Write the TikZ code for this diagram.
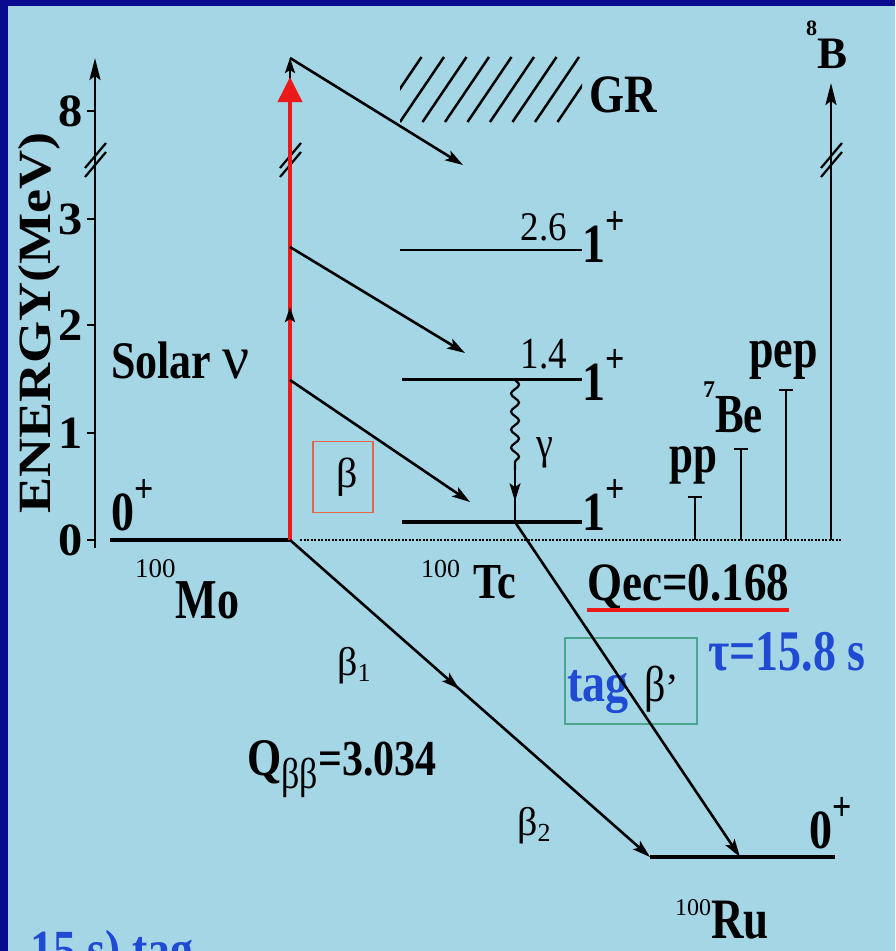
\documentclass[tikz,border=0pt]{standalone}
\usepackage{fontspec}
\setmainfont{Liberation Serif}
\usetikzlibrary{arrows.meta,decorations.pathmorphing,decorations.markings}

\definecolor{slidebg}{RGB}{165,214,229}
\definecolor{slideframe}{RGB}{10,10,145}
\definecolor{tagblue}{RGB}{30,75,210}
\definecolor{nured}{RGB}{235,25,25}
\definecolor{boxgreen}{RGB}{75,165,140}
\definecolor{boxred}{RGB}{230,100,70}

\newcommand{\fs}[1]{\fontsize{#1}{#1}\selectfont}
\newcommand{\tx}[1]{\scalebox{1}[1.2]{#1}}
\newcommand{\spinlab}[1]{\tx{\fs{46}\bfseries #1\raisebox{23pt}{\fs{34}+}}}

\tikzset{
  lab/.style={inner sep=0pt, anchor=base west},
  level/.style={line width=3.4pt},
  decay/.style={line width=2.6pt, -{Stealth[length=18pt,width=11pt,inset=4pt]}},
  breakmark/.style={line width=2.2pt},
  midarrow/.style={postaction={decorate}, decoration={markings,
      mark=at position #1 with {\arrow{Stealth[length=18pt,width=11pt,inset=4pt]}}}}
}

\begin{document}
\begin{tikzpicture}[x=1pt,y=-1pt]
    % slide background
    \useasboundingbox (0,0) rectangle (895,951);
    \fill[slidebg] (0,0) rectangle (895,951);
    \fill[slideframe] (0,0) rectangle (895,6);
    \fill[slideframe] (0,0) rectangle (8,951);

    % energy axis
    \coordinate (ax0) at (95,548);
    \coordinate (axtop) at (95,58);
    \draw[line width=2.6pt, -{Stealth[length=22pt,width=11pt,inset=4pt]}] (ax0) -- (axtop);
    \foreach \v/\y in {0/540,1/433,2/325,3/219,8/111} {
        \draw[line width=2.4pt] (87,\y) -- (95,\y);
        \node[inner sep=0pt, anchor=east] (tick\v) at (83,\y) {\scalebox{1.1}[1.05]{\fs{44}\bfseries \v}};
    }
    \node[rotate=90, anchor=base, inner sep=0pt] (ylab) at (50,323)
        {\scalebox{1.23}[1.05]{\fs{44}\bfseries ENERGY(MeV)}};

    % named points
    \coordinate (MoL) at (110,540);
    \coordinate (MoGS) at (290,540);
    \coordinate (apex) at (290,58);
    \coordinate (redtip) at (290,77);
    \coordinate (solA) at (290,335);
    \coordinate (solB) at (290,307);
    \coordinate (s26) at (290,247);
    \coordinate (s14) at (290,380);
    \coordinate (grend) at (463,165);
    \coordinate (e26) at (465,353);
    \coordinate (e14) at (470,502);
    \coordinate (L26a) at (400,250);
    \coordinate (L26b) at (582,250);
    \coordinate (L14a) at (402,379);
    \coordinate (L14b) at (582,379);
    \coordinate (L0a) at (402,522);
    \coordinate (L0b) at (582,522);
    \coordinate (g14) at (515,379);
    \coordinate (gw) at (515,470);
    \coordinate (TcGS) at (515,522);
    \coordinate (RuA) at (650,857);
    \coordinate (RuB) at (740,857);
    \coordinate (RuR) at (835,857);
    \coordinate (dotA) at (300,540);
    \coordinate (dotB) at (842,540);
    \coordinate (b8bot) at (831,540);
    \coordinate (b8top) at (831,83);

    % axis breaks
    \foreach \x in {95,290,831}
        \foreach \d in {0,9}
            \draw[breakmark] ({\x-10},{168+\d}) -- ({\x+11},{143+\d});

    % GR hatching
    \begin{scope}
        \clip (400,50) rectangle (582,130);
        \foreach \k in {-1,...,7}
            \draw[line width=2.5pt] ({400+22.5*\k},122) -- ({444+22.5*\k},57);
    \end{scope}

    % levels
    \draw[level] (MoL) -- (MoGS);
    \draw[line width=2.5pt] (L26a) -- (L26b);
    \draw[line width=3pt] (L14a) -- (L14b);
    \draw[line width=4pt] (L0a) -- (L0b);
    \draw[level] (RuA) -- (RuR);
    \draw[line width=2.8pt, dash pattern=on 2pt off 1.5pt] (dotA) -- (dotB);

    % solar neutrino energies
    \draw[line width=2.6pt, -{Stealth[length=15pt,width=10pt,inset=3pt]}] (MoGS) -- (apex);
    \draw[nured, line width=3.8pt, -{Triangle[length=25pt,width=24pt]}] (MoGS) -- (redtip);
    \draw[nured, line width=3.8pt, -{Stealth[black,length=15pt,width=10pt,inset=3pt]}] (solA) -- (solB);
    \draw[line width=2.4pt, -{Stealth[length=22pt,width=11pt,inset=4pt]}] (b8bot) -- (b8top);
    \foreach \x/\y in {695/496,741/448,786/389}
        \draw[line width=2.4pt, -{Bar[width=14pt,line width=2.4pt]}] (\x,540) -- (\x,\y);

    % labels
    \node[lab] (solar) at (111,378) {\tx{\fs{44}\bfseries Solar}\hspace{11pt}\scalebox{1.3}[1.35]{\fs{46}ν}};
    \node[lab] (mo0) at (111,530) {\spinlab{0}};
    \node[lab] (mo) at (135,618) {\raisebox{41pt}{\fs{27}100}\scalebox{1}[1.28]{\fs{44}\bfseries Mo}};
    \node[draw=boxred, line width=1.4pt, minimum width=60pt, minimum height=71pt, inner sep=0pt]
        (betabox) at (343,477) {\hspace{8pt}\fs{42}β};
    \node[lab] (gr) at (589,112) {\tx{\fs{45}\bfseries GR}};
    \node[lab] (b8) at (806,68) {\raisebox{33pt}{\fs{22}\bfseries 8}\fs{45}\bfseries B};
    \node[inner sep=0pt, anchor=base east] (e26lab) at (567,240) {\scalebox{1}[1.1]{\fs{37}2.6}};
    \node[inner sep=0pt, anchor=base east] (e14lab) at (567,368) {\tx{\fs{37}1.4}};
    \node[lab] (j26) at (582,262) {\spinlab{1}};
    \node[lab] (j14) at (582,400) {\spinlab{1}};
    \node[lab] (j0) at (582,530) {\spinlab{1}};
    \node[lab] (gam) at (536,458) {\tx{\fs{38}γ}};
    \node[lab] (tc) at (421,598) {\raisebox{21pt}{\fs{26}100}\hspace{13pt}\tx{\fs{42}\bfseries Tc}};
    \node[lab] (qec) at (587,600) {\tx{\fs{45}\bfseries Qec=0.168}};
    \draw[nured, line width=3.8pt] ([yshift=-10pt]qec.base west) -- ([yshift=-10pt]qec.base east);
    \node[lab] (pp) at (669,472) {\scalebox{1}[1.28]{\fs{43}\bfseries pp}};
    \node[lab] (be7) at (703,432) {\raisebox{35pt}{\fs{24}\bfseries 7}\scalebox{1}[1.28]{\fs{43}\bfseries Be}};
    \node[lab] (pep) at (749,367) {\scalebox{1}[1.28]{\fs{44}\bfseries pep}};
    \node[lab, text=tagblue] (tau) at (708,670) {\scalebox{1}[1.25]{\fs{46}\bfseries τ=15.8 s}};
    \node[draw=boxgreen, line width=1.4pt, minimum width=132pt, minimum height=86pt, inner sep=0pt]
        (tagbox) at (631,681) {};
    \node[lab] (tagtxt) at (567,701)
        {\tx{\textcolor{tagblue}{\fs{46}\bfseries tag}}\hspace{16pt}\tx{\fs{42}β}{\fs{40}’}};
    \node[lab] (b1) at (337,675) {\fs{40}β\raisebox{-6pt}{\fs{26}1}};
    \node[lab] (qbb) at (247,775)
        {\tx{\fs{44}\bfseries Q}\raisebox{-13pt}{\tx{\fs{36}ββ}}\tx{\fs{42}\bfseries =3.034}};
    \node[lab] (b2) at (517,835) {\fs{40}β\raisebox{-6pt}{\fs{26}2}};
    \node[lab] (ru) at (675,938) {\raisebox{23pt}{\fs{24}100}\scalebox{1}[1.27]{\fs{45}\bfseries Ru}};
    \node[lab] (ru0) at (809,848) {\spinlab{0}};
    % text cut off by the bottom edge of the slide
    \node[lab, text=tagblue] (cut) at (30,968) {\tx{\fs{46}\bfseries 15 s) tag}};

    % transitions
    \draw[decay] (apex) -- (grend);
    \draw[decay] (s26) -- (e26);
    \draw[decay] (s14) -- (e14);
    \draw[line width=2.2pt, decorate, decoration={snake, amplitude=4pt, segment length=18pt}] (g14) -- (gw);
    \draw[line width=2.2pt, midarrow=0.6] (gw) -- (TcGS);
    \draw[decay, midarrow=0.47] (MoGS) -- (RuA);
    \draw[decay] (TcGS) -- (RuB);
\end{tikzpicture}
\end{document}
